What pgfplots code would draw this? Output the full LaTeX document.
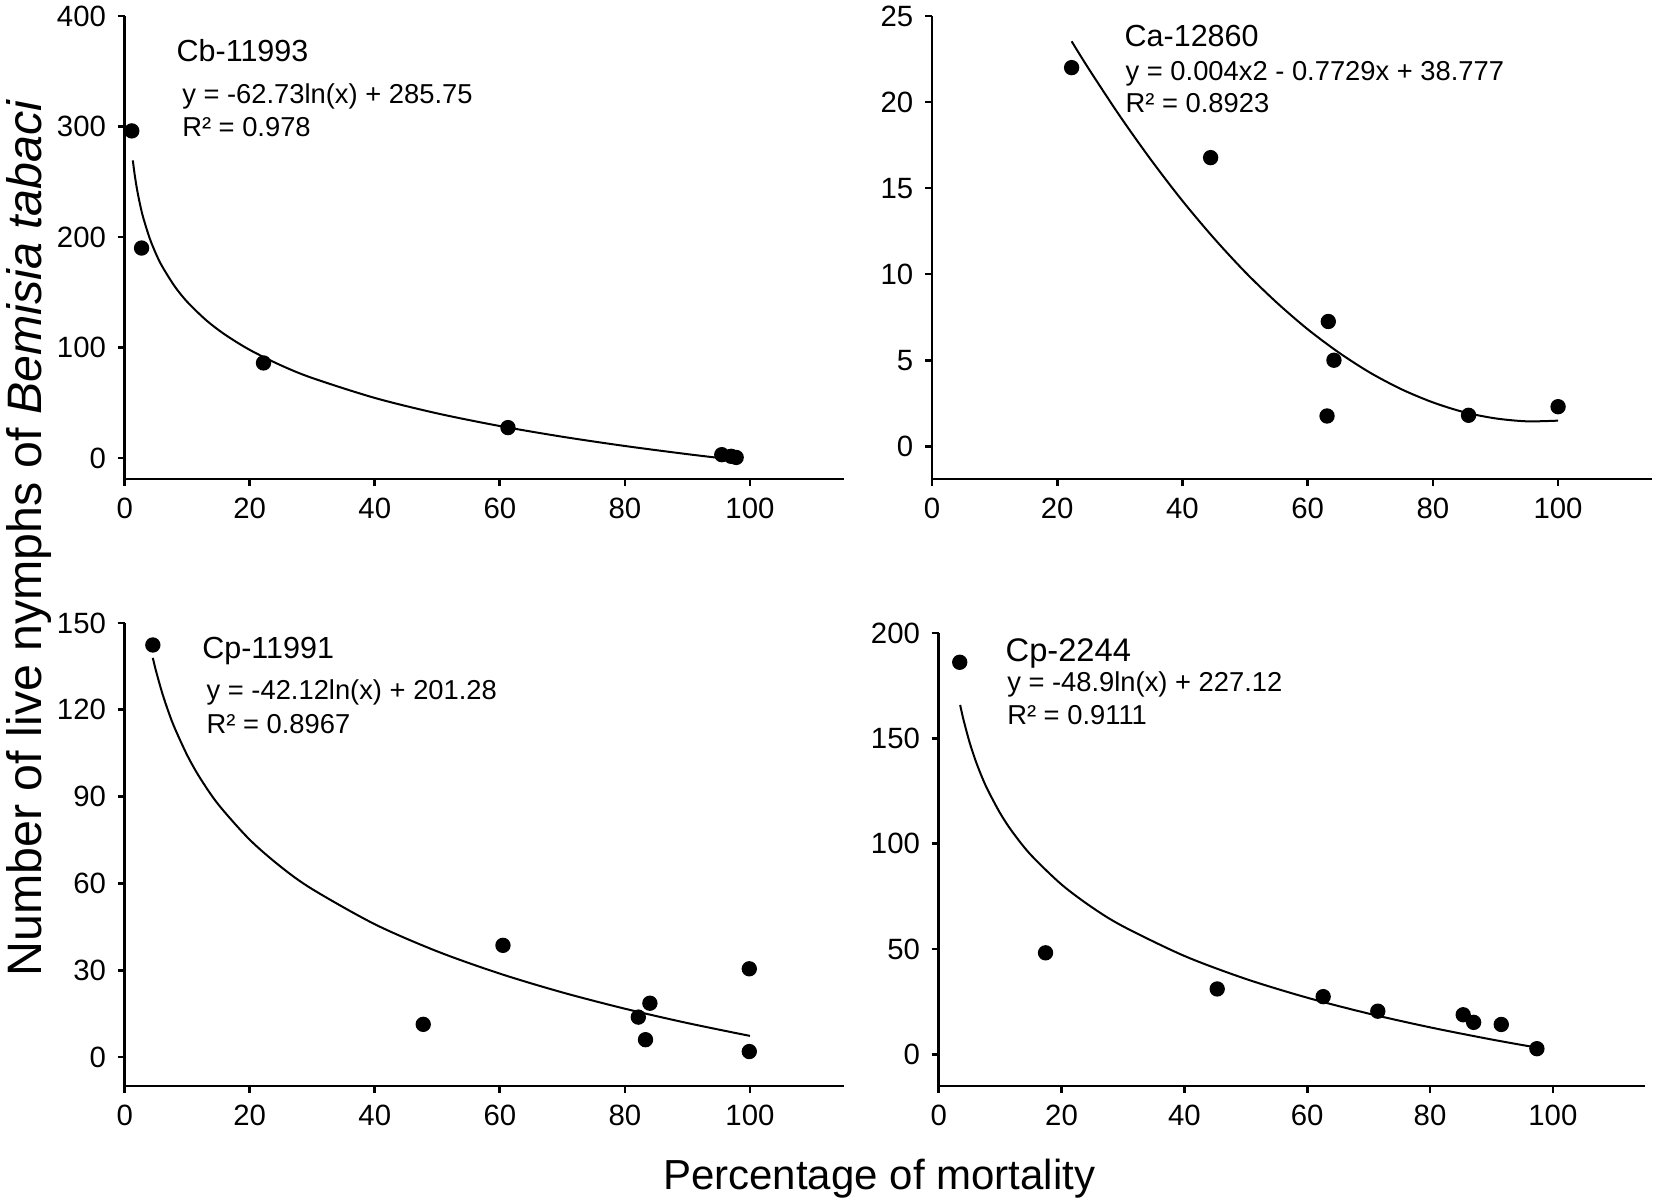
\documentclass[border=0pt]{standalone}
\usepackage{fontspec}
\setmainfont{Liberation Sans}
\usepackage{pgfplots}
\pgfplotsset{compat=1.18}
\pgfplotsset{
  myax/.style={
    scale only axis,
    axis x line=bottom, axis y line=left,
    axis line style={-, line width=0.8pt, black},
    tick align=outside,
    major tick length=2.1pt,
    every tick/.style={black, line width=0.8pt},
    xmin=0, xmax=115,
    xtick={0,20,40,60,80,100},
    tick label style={font=\fontsize{8.8}{10}\selectfont, black},
    /pgf/number format/assume math mode=true,
    clip=false,
    anchor=south west,
  },
  pts/.style={only marks, mark=*, mark size=2.1pt, black},
  fit/.style={no marks, black, line width=0.6pt, smooth},
}
\newcommand{\ttl}{\fontsize{9.15}{11}\selectfont}
\newcommand{\eqf}{\fontsize{8.2}{10}\selectfont}
\begin{document}
\begin{tikzpicture}
\useasboundingbox (0,0) rectangle (496.2pt,361.2pt);

% ---------- top left: Cb-11993
\begin{axis}[myax, at={(37.41pt,217.5pt)}, width=215.7pt, height=138.9pt,
  ymin=-19, ymax=400, ytick={0,100,200,300,400}]
\addplot[fit] coordinates {(1.3,269.29) (1.6,256.27) (2,242.27) (2.5,228.27) (3,216.83) (4,198.79) (5,184.79) (6,173.35) (8,155.31) (10,141.31) (13,124.85) (16,111.83) (20,97.83) (25,83.83) (30,72.39) (40,54.35) (50,40.35) (60,28.91) (70,19.24) (80,10.87) (90,3.48) (97.7,-1.67)};
\addplot[pts] coordinates {(1.13,296) (2.7,190) (22.2,86) (61.3,27.5) (95.5,3) (97,1.5) (97.8,0.5)};
\end{axis}

% ---------- top right: Ca-12860
\begin{axis}[myax, at={(279.6pt,217.5pt)}, width=216pt, height=138.9pt,
  ymin=-1.9, ymax=25, ytick={0,5,10,15,20,25}]
\addplot[fit] coordinates {(22.3,23.53) (25,21.95) (30,19.19) (35,16.63) (40,14.26) (45,12.10) (50,10.13) (55,8.37) (60,6.80) (65,5.44) (70,4.27) (75,3.31) (80,2.55) (85,1.98) (90,1.62) (95,1.45) (100,1.49)};
\addplot[pts] coordinates {(22.3,22.0) (44.5,16.77) (63.3,7.25) (64.2,5.0) (63.1,1.76) (85.7,1.8) (100,2.3)};
\end{axis}

% ---------- bottom left: Cp-11991
\begin{axis}[myax, at={(37.41pt,35.4pt)}, width=215.7pt, height=138.9pt,
  ymin=-10, ymax=150, ytick={0,30,60,90,120,150}]
\addplot[fit] coordinates {(4.5,137.93) (5,133.49) (6,125.81) (7,119.32) (8,113.69) (10,104.30) (12,96.62) (15,87.22) (20,75.10) (25,65.70) (30,58.02) (40,45.90) (50,36.51) (60,28.83) (70,22.33) (80,16.71) (90,11.75) (100,7.31)};
\addplot[pts] coordinates {(4.5,142.4) (47.75,11.3) (60.5,38.6) (82.15,13.8) (84.0,18.6) (83.3,6.0) (99.9,30.5) (99.9,1.9)};
\end{axis}

% ---------- bottom right: Cp-2244
\begin{axis}[myax, at={(281.6pt,35.4pt)}, width=211.9pt, height=135.9pt,
  ymin=-15, ymax=200, ytick={0,50,100,150,200}]
\addplot[fit] coordinates {(3.5,165.86) (4,159.33) (5,148.42) (6,139.50) (7,131.97) (8,125.44) (10,114.52) (12,105.61) (15,94.70) (20,80.63) (25,69.72) (30,60.80) (40,46.73) (50,35.82) (60,26.91) (70,19.37) (80,12.84) (90,7.08) (97.4,3.22)};
\addplot[pts] coordinates {(3.43,186.1) (17.4,48.2) (45.35,31.05) (62.6,27.4) (71.5,20.5) (85.4,18.8) (87.1,15.2) (91.6,14.2) (97.4,2.7)};
\end{axis}

% ---------- panel texts
\node[anchor=base west, inner sep=0] at (52.8pt,342.69pt) {\ttl Cb-11993};
\node[anchor=base west, inner sep=0] at (54.5pt,330.21pt) {\eqf y = -62.73ln(x) + 285.75};
\node[anchor=base west, inner sep=0] at (54.5pt,320.19pt) {\eqf R² = 0.978};

\node[anchor=base west, inner sep=0] at (337.2pt,347.19pt) {\ttl Ca-12860};
\node[anchor=base west, inner sep=0] at (337.5pt,337.0pt) {\eqf y = 0.004x2 - 0.7729x + 38.777};
\node[anchor=base west, inner sep=0] at (337.5pt,327.39pt) {\eqf R² = 0.8923};

\node[anchor=base west, inner sep=0] at (60.5pt,163.71pt) {\ttl Cp-11991};
\node[anchor=base west, inner sep=0] at (61.8pt,151.2pt) {\eqf y = -42.12ln(x) + 201.28};
\node[anchor=base west, inner sep=0] at (61.8pt,141.21pt) {\eqf R² = 0.8967};

\node[anchor=base west, inner sep=0] at (301.5pt,162.69pt) {\fontsize{9.8}{12}\selectfont Cp-2244};
\node[anchor=base west, inner sep=0] at (302.0pt,153.69pt) {\eqf y = -48.9ln(x) + 227.12};
\node[anchor=base west, inner sep=0] at (302.0pt,143.94pt) {\eqf R² = 0.9111};

% ---------- shared axis titles
\node[rotate=90, anchor=base, inner sep=0] at (12.5pt,199.8pt) {\fontsize{14.5}{17}\selectfont Number of live nymphs of \textit{Bemisia tabaci}};
\node[anchor=base, inner sep=0] at (263.76pt,4.2pt) {\fontsize{12.6}{15}\selectfont Percentage of mortality};
\end{tikzpicture}
\end{document}
